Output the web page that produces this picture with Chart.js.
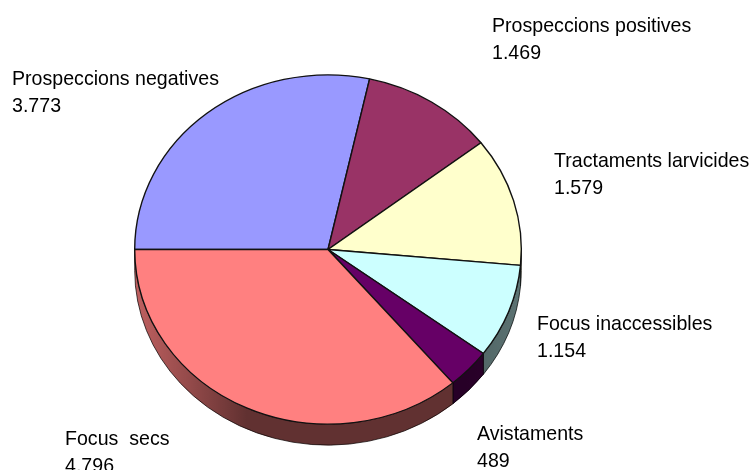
<!DOCTYPE html>
<html>
<head>
<meta charset="utf-8">
<style>html,body{margin:0;padding:0;background:#fff}canvas{display:block}</style>
<script src="https://cdn.jsdelivr.net/npm/chart.js@4"></script>
</head>
<body>
<canvas id="c" width="753" height="470"></canvas>
<script>
const categories = ["Prospeccions negatives","Prospeccions positives","Tractaments larvicides","Focus inaccessibles","Avistaments","Focus  secs"];
const values = [3773,1469,1579,1154,489,4796];
const valueLabels = ["3.773","1.469","1.579","1.154","489","4.796"];
const sliceColors = ["#9999FF","#993366","#FFFFCC","#CCFFFF","#660066","#FF8080"];

const SQUASH = 0.9035, DEPTH = 21;
const labelAnchors = [[12,85],[492,32],[554,167],[537,330],[477,440],[65,445]];

const pie3d = {
  id:'pie3d',
  beforeDatasetsDraw(chart){
    const ctx = chart.ctx, arcs = chart.getDatasetMeta(0).data;
    const cx = arcs[0].x, cy = arcs[0].y, r = arcs[0].outerRadius, ry = r*SQUASH;
    const shade = ctx.createLinearGradient(cx-r,0,cx+r,0);
    shade.addColorStop(0,'rgba(0,0,0,0.25)');
    shade.addColorStop(0.14,'rgba(0,0,0,0.42)');
    shade.addColorStop(0.29,'rgba(0,0,0,0.62)');
    shade.addColorStop(0.85,'rgba(0,0,0,0.62)');
    shade.addColorStop(1,'rgba(0,0,0,0.55)');
    arcs.forEach((a,i)=>{
      const s = Math.max(a.startAngle,0), e = Math.min(a.endAngle,Math.PI);
      if(e<=s) return;
      const path = new Path2D();
      path.ellipse(cx,cy+DEPTH,r,ry,0,s,e);
      path.ellipse(cx,cy,r,ry,0,e,s,true);
      path.closePath();
      ctx.fillStyle = sliceColors[i]; ctx.fill(path);
      ctx.fillStyle = shade; ctx.fill(path);
      ctx.strokeStyle = 'rgba(0,0,0,0.7)'; ctx.lineWidth = 1; ctx.stroke(path);
    });
    ctx.save();
    ctx.translate(cx,cy); ctx.scale(1,SQUASH); ctx.translate(-cx,-cy);
  },
  afterDatasetsDraw(chart){
    chart.ctx.restore();
  },
  afterDraw(chart){
    const ctx = chart.ctx;
    ctx.save();
    ctx.font = '21px "Liberation Sans"';
    ctx.fillStyle = '#000';
    ctx.textAlign = 'left';
    ctx.textBaseline = 'alphabetic';
    categories.forEach((name,i)=>{
      const [x,y] = labelAnchors[i];
      ctx.save();
      ctx.translate(x,y);
      ctx.scale(0.933,1);
      ctx.fillText(name,0,0);
      ctx.fillText(valueLabels[i],0,27);
      ctx.restore();
    });
    ctx.restore();
  }
};

new Chart(document.getElementById('c'),{
  type:'pie',
  data:{labels:categories,datasets:[{data:values,backgroundColor:sliceColors,borderColor:'#111111',borderWidth:1.4}]},
  options:{
    responsive:false,
    animation:false,
    rotation:-90,
    layout:{padding:{left:134,right:231,top:55.5,bottom:26.5}},
    plugins:{legend:{display:false},tooltip:{enabled:false},title:{display:false}}
  },
  plugins:[pie3d]
});
</script>
</body>
</html>
